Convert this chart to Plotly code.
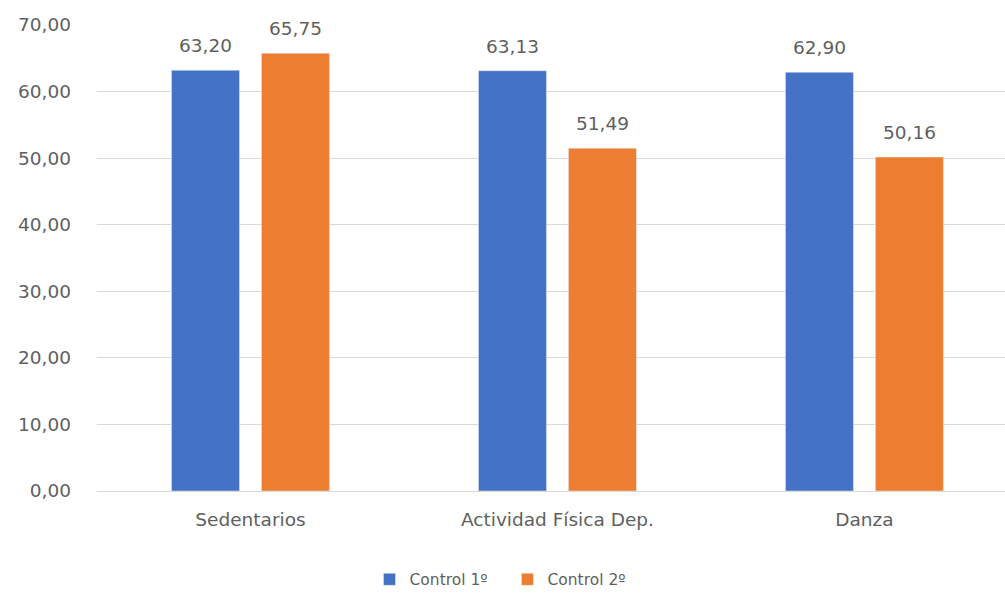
import plotly.graph_objects as go

categories = ["Sedentarios", "Actividad Física Dep.", "Danza"]
control1 = [63.20, 63.13, 62.90]
control2 = [65.75, 51.49, 50.16]
series = [("Control 1º", control1, "#4472C4"), ("Control 2º", control2, "#ED7D31")]
tick_vals = [0, 10, 20, 30, 40, 50, 60, 70]

font_fam = "'DejaVu Sans', sans-serif"
gray = "#5f5f5f"

fig = go.Figure()
for name, vals, col in series:
    fig.add_trace(go.Bar(name=name + "   ", x=categories, y=vals, marker_color=col))

# value labels above bars
for k, (name, vals, col) in enumerate(series):
    shift = -45 if k == 0 else 45
    for c, v in zip(categories, vals):
        fig.add_annotation(x=c, y=v, xref="x", yref="y", text=f"{v:.2f}".replace(".", ","),
                           showarrow=False, xshift=shift, yanchor="bottom", yshift=12,
                           font=dict(size=18.5, color=gray, family=font_fam))

fig.update_layout(
    width=1005, height=594,
    margin=dict(l=97, r=0, t=25, b=103),
    paper_bgcolor="white", plot_bgcolor="white",
    separators=",.",
    font=dict(family=font_fam, color=gray, size=18),
    barmode="group", bargap=0.414, bargroupgap=0.244,
    showlegend=True,
    legend=dict(orientation="h", xref="container", yref="container",
                x=0.505, xanchor="center", y=0.024, yanchor="middle",
                font=dict(size=15.5, color=gray), itemwidth=30),
    xaxis=dict(range=[-0.5, 2.458], showline=True, linecolor="#d9d9d9", linewidth=1,
               ticks="", ticklabelstandoff=12, tickfont=dict(size=18.5, color=gray), showgrid=False),
    yaxis=dict(range=[0, 70], tickvals=tick_vals, tickformat=".2f",
               showgrid=True, gridcolor="#d9d9d9", zeroline=False,
               ticks="", ticklabelstandoff=25, tickfont=dict(size=18.5, color=gray)),
)

fig.write_html("out.html")
